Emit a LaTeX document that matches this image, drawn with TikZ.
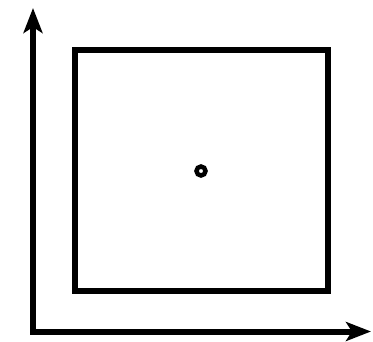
\documentclass[tikz,border=0pt]{standalone}
\usepackage{tikz}
\usetikzlibrary{arrows.meta, positioning}

\begin{document}
\begin{tikzpicture}[
    x=1pt, y=-1pt,
    axis/.style={{Stealth[length=25pt,width=19pt,inset=6pt]}-{Stealth[length=25pt,width=19pt,inset=6pt]}, line width=6pt, line join=miter},
    region/.style={rectangle, draw, line width=6pt, minimum width=253.5pt, minimum height=241pt, inner sep=0pt},
    point/.style={circle, draw, line width=4.5pt, minimum size=9pt, inner sep=0pt}
]
\useasboundingbox (0,0) rectangle (373,341);
\coordinate (origin) at (33,331.5);
\coordinate (ytip) at (33,8);
\coordinate (xtip) at (371,331.5);
\node[region] (square) at (201.5,170.5) {};
\node[point] (center) at (201,171) {};

\draw[axis] (ytip) |- (xtip);
\end{tikzpicture}
\end{document}
